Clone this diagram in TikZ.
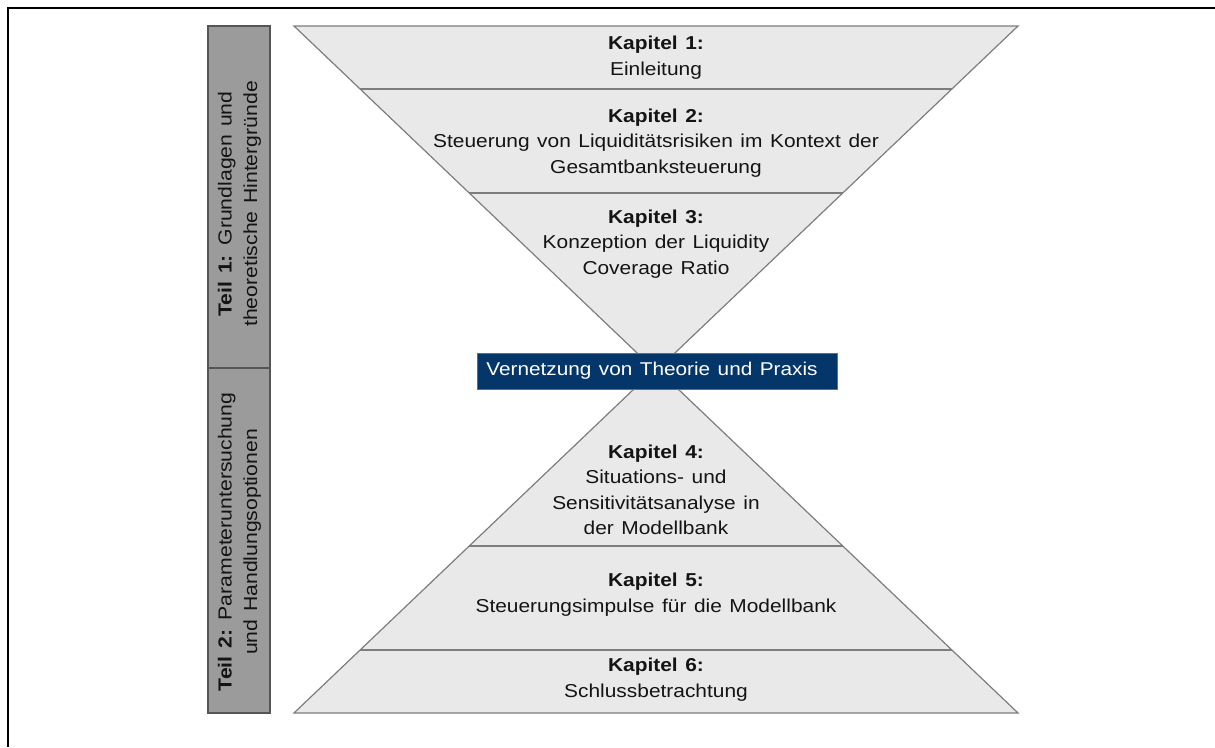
\documentclass[tikz,border=0pt]{standalone}
\usepackage{fontspec}
\setmainfont[FakeStretch=1.12,WordSpace=1.3]{Liberation Sans}
\definecolor{funnelfill}{RGB}{233,233,233}
\definecolor{funneledge}{RGB}{125,125,125}
\definecolor{sidefill}{RGB}{155,155,155}
\definecolor{sideedge}{RGB}{85,85,85}
\definecolor{navybar}{RGB}{4,54,106}
\definecolor{txtcol}{RGB}{20,20,20}
\begin{document}
\begin{tikzpicture}[x=0.75pt,y=-0.75pt,
  funnelpart/.style={fill=funnelfill,draw=funneledge,line width=0.9pt,line join=miter},
  sepline/.style={draw=funneledge,line width=1.1pt},
  sidebox/.style={fill=sidefill,draw=sideedge,line width=0.9pt},
  chaptext/.style={align=center,text=txtcol,inner sep=0pt,
    font=\fontsize{14pt}{19.1pt}\selectfont},
  sidetext/.style={align=center,text=txtcol,inner sep=0pt,rotate=90,
    font=\fontsize{14.2pt}{19.1pt}\selectfont},
  bartext/.style={text=white,inner sep=0pt,
    font=\fontsize{13.9pt}{19.1pt}\selectfont}]
\useasboundingbox (0,0) rectangle (1215,747);
% outer frame (top and left)
\draw[line width=1.7pt] (8,747) -- (8,8) -- (1215,8);
% side bar
\filldraw[sidebox] (208,26) rectangle (270,368);
\filldraw[sidebox] (208,368) rectangle (270,713);
\node[sidetext] (teil1) at (239.5,204) {\textbf{Teil 1:} Grundlagen und\\theoretische Hintergründe};
\node[sidetext] (teil2) at (239.5,542) {\textbf{Teil 2:} Parameteruntersuchung\\und Handlungsoptionen};
% upper funnel
\filldraw[funnelpart] (294,26) -- (1018,26) -- (656,371) -- cycle;
\draw[sepline] (360.1,89) -- (951.9,89);
\draw[sepline] (469.2,193) -- (842.8,193);
% lower pyramid
\filldraw[funnelpart] (294,713) -- (1018,713) -- (656,368) -- cycle;
\draw[sepline] (360.1,650) -- (951.9,650);
\draw[sepline] (469.2,546) -- (842.8,546);
% middle bar
\filldraw[fill=navybar,draw=navybar!70!white,line width=0.6pt] (477,353) rectangle (837,389);
\node[bartext] (vernetzung) at (652,371) {Vernetzung von Theorie und Praxis};
% chapter texts
\node[chaptext] (k1) at (656,57.5) {\textbf{Kapitel 1:}\\Einleitung};
\node[chaptext] (k2) at (656,143) {\textbf{Kapitel 2:}\\Steuerung von Liquiditätsrisiken im Kontext der\\Gesamtbanksteuerung};
\node[chaptext] (k3) at (656,244) {\textbf{Kapitel 3:}\\Konzeption der Liquidity\\Coverage Ratio};
\node[chaptext] (k4) at (656,490) {\textbf{Kapitel 4:}\\Situations- und\\Sensitivitätsanalyse in\\der Modellbank};
\node[chaptext] (k5) at (656,594.5) {\textbf{Kapitel 5:}\\Steuerungsimpulse für die Modellbank};
\node[chaptext] (k6) at (656,679.5) {\textbf{Kapitel 6:}\\Schlussbetrachtung};
\end{tikzpicture}
\end{document}
